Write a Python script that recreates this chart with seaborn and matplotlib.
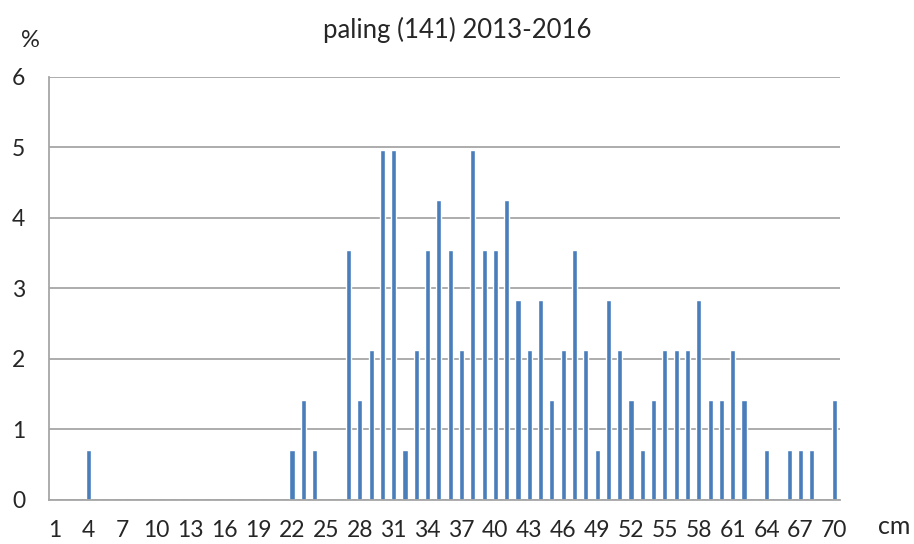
import numpy as np
import pandas as pd
import matplotlib
matplotlib.use("Agg")
import matplotlib.pyplot as plt
import seaborn as sns

# length classes (cm) and share of catch (%)
lengths = list(range(1, 71))
percent = [
    0, 0, 0, 0.71, 0, 0, 0, 0, 0, 0,              # 1-10
    0, 0, 0, 0, 0, 0, 0, 0, 0, 0,                 # 11-20
    0, 0.71, 1.42, 0.71, 0, 0, 3.55, 1.42, 2.13, 4.96,   # 21-30
    4.96, 0.71, 2.13, 3.55, 4.26, 3.55, 2.13, 4.96, 3.55, 3.55,  # 31-40
    4.26, 2.84, 2.13, 2.84, 1.42, 2.13, 3.55, 2.13, 0.71, 2.84,  # 41-50
    2.13, 1.42, 0.71, 1.42, 2.13, 2.13, 2.13, 2.84, 1.42, 1.42,  # 51-60
    2.13, 1.42, 0, 0.71, 0, 0.71, 0.71, 0.71, 0, 1.42,           # 61-70
]
title = "paling (141) 2013-2016"
tick_labels = [str(v) if (v - 1) % 3 == 0 else "" for v in lengths]

df = pd.DataFrame({"cm": [str(v) for v in lengths], "pct": percent})

sns.set_style("white")
plt.rcParams["font.family"] = ["Lato", "DejaVu Sans"]

fig = plt.figure(figsize=(9.14, 5.44), dpi=100)
ax = fig.add_axes([0.0536, 0.0809, 0.8655, 0.7776])

sns.barplot(data=df, x="cm", y="pct", color="#4a7ebb", saturation=1,
            width=0.45, ax=ax)

grid_col = "#a6a6a6"
txt_col = "#262626"
ax.set_ylim(0, 6)
ax.set_xlim(-0.5, len(lengths) - 0.5)
ax.set_yticks(range(0, 7))
ax.yaxis.grid(True, color=grid_col, linewidth=1.3)
ax.set_axisbelow(True)

ax.set_xticks(range(len(lengths)))
ax.set_xticklabels(tick_labels)
ax.set_xticks(np.arange(-0.5, len(lengths)), minor=True)
ax.tick_params(axis="x", which="major", length=0, pad=14.5, labelsize=16.5, colors=txt_col)
ax.tick_params(axis="x", which="minor", length=6, width=1, color=grid_col, direction="out")
ax.tick_params(axis="y", length=6, width=1, color=grid_col, pad=11, labelsize=16.5,
               labelcolor=txt_col)

for side in ["top", "right"]:
    ax.spines[side].set_visible(False)
for side in ["left", "bottom"]:
    ax.spines[side].set_color(grid_col)
    ax.spines[side].set_linewidth(1.3)

ax.set_xlabel("")
ax.set_ylabel("")

fig.text(0.5, 0.945, title, ha="center", va="center", fontsize=18.5, color=txt_col)
fig.text(0.033, 0.926, "%", ha="center", va="center", fontsize=17, color=txt_col)
fig.text(0.978, 0.033, "cm", ha="center", va="center", fontsize=18, color=txt_col)

fig.savefig("out.png", dpi=100)
